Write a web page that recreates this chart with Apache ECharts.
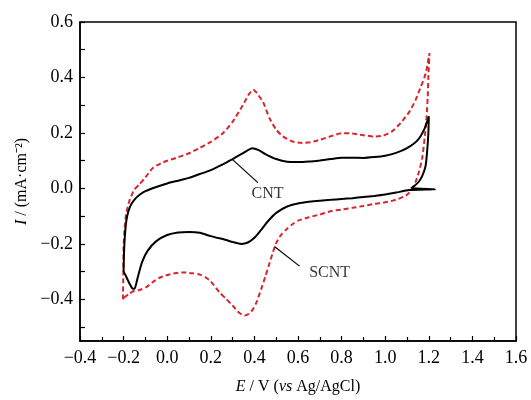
<!DOCTYPE html>
<html>
<head>
<meta charset="utf-8">
<script src="https://cdn.jsdelivr.net/npm/echarts@6/dist/echarts.min.js"></script>
<style>
  html, body { margin: 0; padding: 0; background: #fff; }
  #chart-container { width: 531px; height: 400px; }
</style>
</head>
<body>
<div id="chart-container"></div>
<script>
// CNT (black, solid) - one closed CV loop, potential in V, current in mA/cm2
var cntPotential = [-0.200, -0.198, -0.193, -0.185, -0.170, -0.150, -0.125, -0.100, -0.050, 0.000, 0.050, 0.100, 0.150, 0.200, 0.250, 0.300, 0.350, 0.390, 0.420, 0.450, 0.500, 0.550, 0.600, 0.650, 0.700, 0.750, 0.800, 0.850, 0.900, 0.950, 1.000, 1.050, 1.100, 1.150, 1.180, 1.200,
    1.198, 1.192, 1.185, 1.170, 1.155, 1.135, 1.120, 1.230, 1.110,
    1.050, 1.000, 0.950, 0.900, 0.850, 0.800, 0.750, 0.700, 0.650, 0.600, 0.550, 0.500, 0.460, 0.430, 0.400, 0.370, 0.340, 0.300, 0.270, 0.200, 0.150, 0.100, 0.050, 0.000, -0.050, -0.090, -0.115, -0.135, -0.150, -0.160, -0.175, -0.190, -0.200];
var cntCurrent = [-0.300, -0.230, -0.160, -0.105, -0.065, -0.040, -0.022, -0.010, 0.005, 0.018, 0.028, 0.038, 0.052, 0.066, 0.085, 0.106, 0.128, 0.145, 0.138, 0.124, 0.106, 0.096, 0.095, 0.097, 0.101, 0.106, 0.111, 0.111, 0.110, 0.113, 0.118, 0.128, 0.145, 0.175, 0.215, 0.260,
    0.200, 0.130, 0.080, 0.045, 0.025, 0.010, 0.002, -0.003, -0.006,
    -0.015, -0.022, -0.027, -0.031, -0.035, -0.038, -0.041, -0.044, -0.048, -0.054, -0.065, -0.088, -0.120, -0.150, -0.178, -0.195, -0.200, -0.193, -0.186, -0.172, -0.160, -0.157, -0.159, -0.168, -0.190, -0.225, -0.265, -0.320, -0.362, -0.360, -0.340, -0.315, -0.300];

// SCNT (red, dashed)
var scntPotential = [-0.203, -0.201, -0.200, -0.195, -0.188, -0.173, -0.150, -0.127, -0.100, -0.066, -0.030, 0.000, 0.041, 0.100, 0.148, 0.200, 0.250, 0.300, 0.347, 0.375, 0.395, 0.410, 0.440, 0.470, 0.500, 0.530, 0.576, 0.620, 0.660, 0.700, 0.750, 0.800, 0.850, 0.900, 0.950, 0.990, 1.030, 1.070, 1.110, 1.140, 1.160, 1.180, 1.190, 1.203,
    1.198, 1.195, 1.190, 1.182, 1.170, 1.155, 1.140, 1.127, 1.110, 1.095, 1.060, 1.035, 1.000, 0.950, 0.900, 0.850, 0.800, 0.750, 0.700, 0.650, 0.600, 0.576, 0.550, 0.520, 0.500, 0.485, 0.470, 0.450, 0.431, 0.410, 0.393, 0.375, 0.355, 0.330, 0.300, 0.270, 0.240, 0.200, 0.179, 0.148, 0.117, 0.080, 0.041, 0.000, -0.035, -0.070, -0.096, -0.125, -0.150, -0.175, -0.200];
var scntCurrent = [-0.400, -0.300, -0.210, -0.140, -0.090, -0.044, -0.003, 0.015, 0.040, 0.074, 0.090, 0.100, 0.110, 0.127, 0.145, 0.168, 0.195, 0.240, 0.300, 0.340, 0.356, 0.345, 0.311, 0.252, 0.212, 0.188, 0.169, 0.164, 0.167, 0.175, 0.188, 0.199, 0.198, 0.192, 0.187, 0.190, 0.205, 0.235, 0.275, 0.320, 0.360, 0.400, 0.430, 0.488,
    0.400, 0.330, 0.260, 0.190, 0.110, 0.060, 0.025, 0.004, -0.015, -0.026, -0.038, -0.044, -0.050, -0.056, -0.063, -0.070, -0.076, -0.082, -0.094, -0.104, -0.116, -0.128, -0.145, -0.170, -0.197, -0.230, -0.268, -0.318, -0.363, -0.410, -0.436, -0.452, -0.458, -0.448, -0.422, -0.398, -0.375, -0.335, -0.322, -0.310, -0.306, -0.303, -0.305, -0.312, -0.322, -0.340, -0.356, -0.366, -0.369, -0.380, -0.395];

var xTicks = [-0.4, -0.2, 0.0, 0.2, 0.4, 0.6, 0.8, 1.0, 1.2, 1.4, 1.6];
var yTicks = [-0.4, -0.2, 0.0, 0.2, 0.4, 0.6];
var yMinorTicks = [-0.5, -0.4, -0.3, -0.2, -0.1, 0.0, 0.1, 0.2, 0.3, 0.4, 0.5, 0.6];

// labels with leader lines, in data coordinates
var cntLeader = [[0.300, 0.104], [0.416, 0.021]];
var cntText = [0.46, -0.021];
var scntLeader = [[0.492, -0.209], [0.607, -0.280]];
var scntText = [0.745, -0.305];

function zip(a, b) {
    var out = [];
    for (var i = 0; i < a.length; i++) out.push([a[i], b[i]]);
    return out;
}
function fmt(v) {
    return v.toFixed(1).replace('-', '\u2212');
}

var font = '"Liberation Serif", "Times New Roman", serif';

var option = {
    animation: false,
    backgroundColor: '#fff',
    grid: {
        left: 80,
        right: 15,
        top: 22,
        bottom: 54,
        show: true,
        borderColor: '#000',
        borderWidth: 1.5
    },
    xAxis: {
        type: 'value',
        min: -0.4,
        max: 1.6,
        interval: 0.2,
        name: '{i|E} / V ({i|vs} Ag/AgCl)',
        nameLocation: 'middle',
        nameGap: 38,
        nameTextStyle: {
            fontFamily: font,
            fontSize: 16,
            color: '#000',
            rich: { i: { fontStyle: 'italic', fontFamily: font, fontSize: 16, color: '#000' } }
        },
        axisLine: { onZero: false, lineStyle: { color: '#000', width: 1.5 } },
        axisTick: { inside: true, length: 5, lineStyle: { color: '#000', width: 1.2 } },
        minorTick: { show: true, splitNumber: 2, length: 4, lineStyle: { color: '#000', width: 1.2 } },
        axisLabel: {
            margin: 8,
            fontFamily: font,
            fontSize: 18,
            color: '#000',
            formatter: fmt
        },
        splitLine: { show: false }
    },
    yAxis: {
        type: 'value',
        min: -0.55,
        max: 0.6,
        name: '{i|I} / (mA\u00b7cm\u207b\u00b2)',
        nameLocation: 'middle',
        nameRotate: 90,
        nameGap: 50,
        nameTextStyle: {
            fontFamily: font,
            fontSize: 16,
            color: '#000',
            rich: { i: { fontStyle: 'italic', fontFamily: font, fontSize: 16, color: '#000' } }
        },
        axisLine: { onZero: false, lineStyle: { color: '#000', width: 1.5 } },
        axisTick: { inside: true, length: 5, customValues: yMinorTicks, lineStyle: { color: '#000', width: 1.2 } },
        axisLabel: {
            margin: 7,
            fontFamily: font,
            fontSize: 18,
            color: '#000',
            customValues: yTicks,
            formatter: fmt
        },
        splitLine: { show: false }
    },
    series: [
        {
            name: 'SCNT',
            type: 'line',
            data: zip(scntPotential, scntCurrent),
            showSymbol: false,
            smooth: 0.2,
            lineStyle: { color: '#d7262f', width: 2, type: [5, 3] },
            z: 2
        },
        {
            name: 'CNT',
            type: 'line',
            data: zip(cntPotential, cntCurrent),
            showSymbol: false,
            smooth: 0.2,
            lineStyle: { color: '#000', width: 2 },
            z: 3
        },
        {
            type: 'line',
            data: cntLeader,
            showSymbol: false,
            lineStyle: { color: '#000', width: 1.2 },
            z: 4
        },
        {
            type: 'line',
            data: scntLeader,
            showSymbol: false,
            lineStyle: { color: '#000', width: 1.2 },
            z: 4
        },
        {
            type: 'scatter',
            symbolSize: 0,
            data: [
                { value: cntText, label: { formatter: 'CNT' } },
                { value: scntText, label: { formatter: 'SCNT' } }
            ],
            label: {
                show: true,
                position: 'inside',
                fontFamily: font,
                fontSize: 16,
                color: '#000'
            },
            z: 5
        }
    ]
};

var myChart = echarts.init(document.getElementById('chart-container'));
myChart.setOption(option);
</script>
</body>
</html>
